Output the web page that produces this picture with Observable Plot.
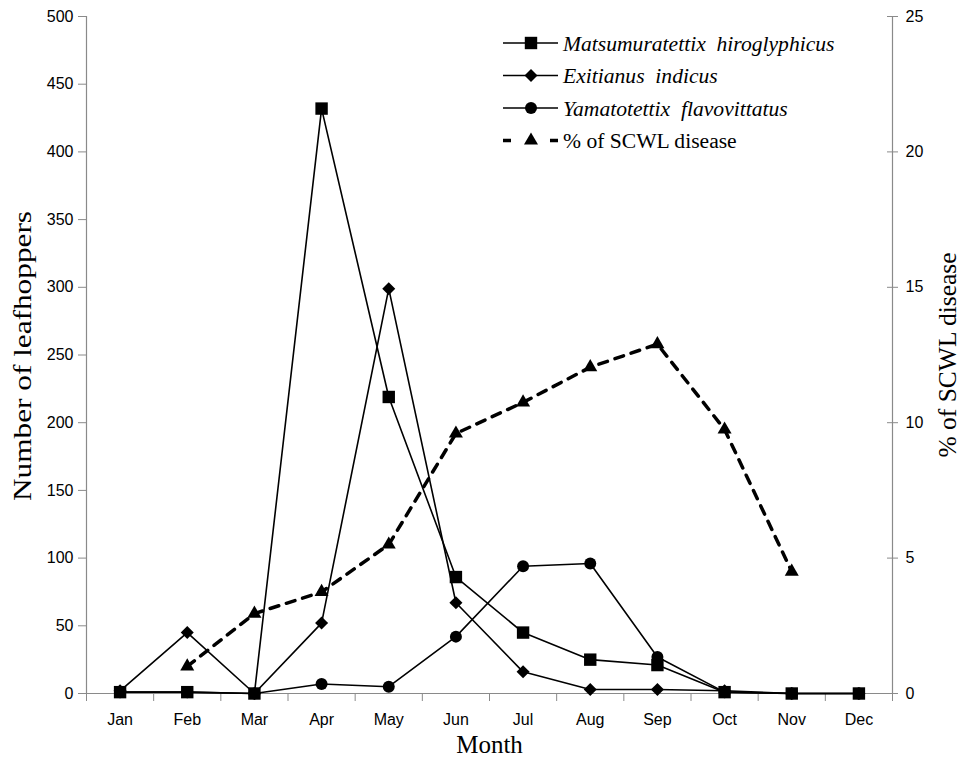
<!DOCTYPE html>
<html><head><meta charset="utf-8">
<script src="https://cdn.jsdelivr.net/npm/d3@7"></script>
<script src="https://cdn.jsdelivr.net/npm/@observablehq/plot@0.6"></script>
<style>body{margin:0;background:#fff}#chart{position:relative;width:964px;height:770px}
.serif{font-family:"Liberation Serif","Times New Roman",serif !important}</style>
</head><body><div id="chart"></div>
<script>
const months = ["Jan","Feb","Mar","Apr","May","Jun","Jul","Aug","Sep","Oct","Nov","Dec"];
const matsumuratettix = [1, 1, 0, 432, 219, 86, 45, 25, 21, 1, 0, 0];
const exitianus = [2, 45, 0, 52, 299, 67, 16, 3, 3, 2, 0, 0];
const yamatotettix = [1, 1, 0, 7, 5, 42, 94, 96, 27, 1, 0, 0];
const scwl = [null, 1.0, 2.95, 3.75, 5.5, 9.6, 10.75, 12.05, 12.9, 9.75, 4.5, null];
const leftTicks = [0, 50, 100, 150, 200, 250, 300, 350, 400, 450, 500];
const rightTicks = [0, 5, 10, 15, 20, 25];
const seriesNames = ["Matsumuratettix  hiroglyphicus", "Exitianus  indicus", "Yamatotettix  flavovittatus", "% of SCWL disease"];
const yTitle = "Number of leafhoppers";
const y2Title = "% of SCWL disease";
const xTitle = "Month";

const k = 500 / 25; // right-axis scale factor
const rows = months.map((m, i) => ({
  x: i + 0.5, month: m,
  mat: matsumuratettix[i], exi: exitianus[i], yam: yamatotettix[i],
  dis: scwl[i] == null ? null : scwl[i] * k
}));
const disRows = rows.filter(d => d.dis != null);
const rightTickPos = rightTicks.map(v => v * k);
const gray = "#8a8a8a";
const serif = "Liberation Serif";
const rSq = 7, rDia = 5.2, rCir = 6, rTri = 5.2;

const chart = Plot.plot({
  width: 964, height: 770,
  marginLeft: 86, marginRight: 72, marginTop: 16, marginBottom: 77,
  style: {fontFamily: "Liberation Sans, Arial, sans-serif", fontSize: "16px", color: "#000", background: "#fff"},
  x: {type: "linear", domain: [0, 12]},
  y: {domain: [0, 500]},
  marks: [
    Plot.ruleX([0, 12], {stroke: gray, strokeWidth: 1.2}),
    Plot.ruleY([0], {stroke: gray, strokeWidth: 1.2}),
    Plot.axisX({ticks: d3.range(13), tickSize: 8, tickFormat: () => "", stroke: gray, label: null}),
    Plot.axisX({ticks: rows.map(d => d.x), tickSize: 0, tickPadding: 20, tickFormat: (d) => months[Math.floor(d)], label: null}),
    Plot.axisY({ticks: leftTicks, tickSize: 8, tickPadding: 5, stroke: gray, label: null}),
    Plot.axisY({anchor: "right", ticks: rightTickPos, tickSize: 11, dx: -6, tickFormat: () => "", stroke: gray, label: null}),
    Plot.axisY({anchor: "right", ticks: rightTickPos, tickSize: 0, tickPadding: 13, tickFormat: d => d / k, label: null}),
    // disease line (dashed)
    Plot.line(disRows, {x: "x", y: "dis", stroke: "#000", strokeWidth: 3.5, strokeDasharray: "9,8"}),
    Plot.line(rows, {x: "x", y: "yam", stroke: "#000", strokeWidth: 1.6}),
    Plot.line(rows, {x: "x", y: "exi", stroke: "#000", strokeWidth: 1.6}),
    Plot.line(rows, {x: "x", y: "mat", stroke: "#000", strokeWidth: 1.6}),
    Plot.dot(disRows, {x: "x", y: "dis", symbol: "triangle", r: rTri, fill: "#000"}),
    Plot.dot(rows, {x: "x", y: "yam", symbol: "circle", r: rCir, fill: "#000"}),
    Plot.dot(rows, {x: "x", y: "exi", symbol: "square", r: rDia, rotate: 45, fill: "#000"}),
    Plot.dot(rows, {x: "x", y: "mat", symbol: "square", r: rSq, fill: "#000"}),
    Plot.text([yTitle], {frameAnchor: "left", dx: -64, dy: 1, rotate: -90, textAnchor: "middle", fontFamily: serif, fontSize: 25, fill: "#000"}),
    Plot.text([y2Title], {frameAnchor: "right", dx: 55, dy: 0, rotate: -90, textAnchor: "middle", fontFamily: serif, fontSize: 25, fill: "#000"}),
    Plot.text([xTitle], {frameAnchor: "bottom", dy: 59, textAnchor: "middle", fontFamily: serif, fontSize: 25, fill: "#000"})
  ]
});

const svg = d3.select(chart);
// match the reference's stretched/condensed title lengths
svg.selectAll("text").each(function() {
  const t = this.textContent;
  if (t === yTitle) d3.select(this).classed("serif", true).attr("textLength", 290).attr("lengthAdjust", "spacingAndGlyphs");
  if (t === y2Title) d3.select(this).classed("serif", true).attr("textLength", 205).attr("lengthAdjust", "spacingAndGlyphs");
  if (t === xTitle) d3.select(this).classed("serif", true);
});

// Legend inside plot (top right)
const lg = svg.append("g").attr("transform", "translate(503,43)").attr("text-anchor", "start");
const symbols = [
  {type: d3.symbolSquare, size: Math.PI * rSq * rSq, rot: 0},
  {type: d3.symbolSquare, size: Math.PI * rDia * rDia, rot: 45},
  {type: d3.symbolCircle, size: Math.PI * rCir * rCir, rot: 0},
  {type: d3.symbolTriangle, size: Math.PI * rTri * rTri, rot: 0}
];
seriesNames.forEach((name, i) => {
  const g = lg.append("g").attr("transform", `translate(0,${i * 32.5})`);
  if (i < 3) {
    g.append("line").attr("x1", 0).attr("x2", 55).attr("stroke", "#000").attr("stroke-width", 1.6);
  } else {
    g.append("line").attr("x1", 0).attr("x2", 55).attr("stroke", "#000").attr("stroke-width", 3.5).attr("stroke-dasharray", "8,39");
  }
  g.append("path").attr("d", d3.symbol(symbols[i].type, symbols[i].size)())
    .attr("transform", `translate(28,0) rotate(${symbols[i].rot})`).attr("fill", "#000");
  g.append("text").attr("x", 60).attr("dy", "0.35em").attr("text-anchor", "start")
    .classed("serif", true)
    .style("font-size", "21.6px")
    .style("font-style", i < 3 ? "italic" : "normal").attr("fill", "#000")
    .text(name);
});

document.getElementById("chart").append(chart);
</script>
</body></html>
